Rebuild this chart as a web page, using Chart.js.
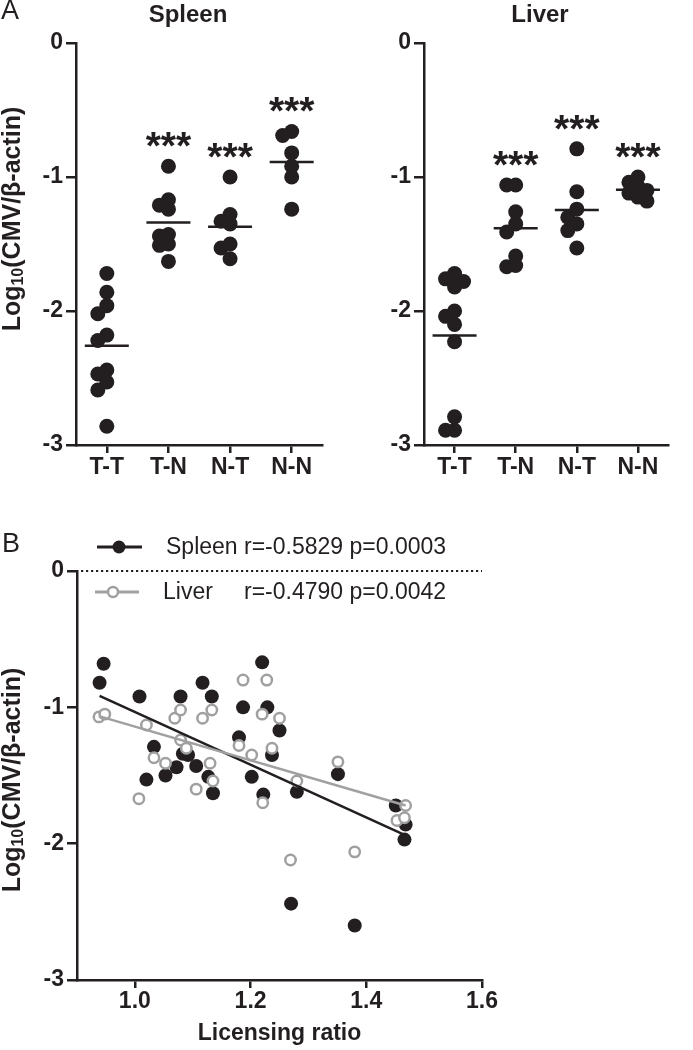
<!DOCTYPE html>
<html>
<head>
<meta charset="utf-8">
<script src="https://cdn.jsdelivr.net/npm/chart.js@4.4.1/dist/chart.umd.min.js"></script>
<style>
  body { margin: 0; background: #fff; width: 693px; height: 1050px; position: relative; overflow: hidden; }
  canvas { position: absolute; }
</style>
</head>
<body>
<canvas id="spleenChart" width="347" height="490" style="left:0;top:0"></canvas>
<canvas id="liverChart" width="346" height="490" style="left:347px;top:0"></canvas>
<canvas id="corrChart" width="693" height="560" style="left:0;top:490px"></canvas>
<script>
// panel A: log10(CMV/beta-actin) per donor/recipient group
const groups = ['T-T', 'T-N', 'N-T', 'N-N'];
const spleenTT = [-1.72, -1.86, -1.96, -2.02, -2.18, -2.22, -2.44, -2.47, -2.53, -2.59, -2.86];
const spleenTN = [-0.92, -1.17, -1.21, -1.24, -1.43, -1.44, -1.51, -1.50, -1.63];
const spleenNT = [-1.00, -1.28, -1.33, -1.35, -1.50, -1.53, -1.61];
const spleenNN = [-0.66, -0.69, -0.82, -0.92, -1.00, -1.24];
const liverTT = [-1.72, -1.76, -1.78, -1.82, -2.00, -2.04, -2.10, -2.23, -2.79, -2.89, -2.89];
const liverTN = [-1.06, -1.06, -1.26, -1.35, -1.41, -1.59, -1.67, -1.66];
const liverNT = [-0.79, -1.11, -1.24, -1.30, -1.35, -1.40, -1.53];
const liverNN = [-1.00, -1.04, -1.07, -1.10, -1.12, -1.15, -1.18];
const spleenSig = ['', '***', '***', '***'];
const liverSig = ['', '***', '***', '***'];
const logTicks = [-3, -2, -1, 0];

// panel B: licensing ratio vs log10(CMV/beta-actin)
const spleenRatio = [0.946, 0.939, 1.008, 1.079, 1.117, 1.133, 1.220, 1.187, 1.229, 1.250,
  1.180, 1.237, 1.033, 1.083, 1.092, 1.072, 1.053, 1.106, 1.020, 1.127,
  1.135, 1.202, 1.222, 1.280, 1.351, 1.451, 1.468, 1.466, 1.270, 1.380];
const spleenLog = [-0.68, -0.82, -0.92, -0.92, -0.82, -0.92, -0.67, -1.00, -1.00, -1.17,
  -1.22, -1.35, -1.29, -1.34, -1.35, -1.44, -1.50, -1.43, -1.53, -1.51,
  -1.63, -1.51, -1.64, -1.62, -1.49, -1.72, -1.86, -1.97, -2.44, -2.60];
const liverRatio = [0.938, 0.948, 1.020, 1.033, 1.053, 1.007, 1.069, 1.079, 1.079, 1.089,
  1.117, 1.133, 1.130, 1.135, 1.106, 1.187, 1.228, 1.220, 1.250, 1.180,
  1.202, 1.237, 1.221, 1.280, 1.351, 1.468, 1.453, 1.466, 1.269, 1.380];
const liverLog = [-1.07, -1.05, -1.13, -1.37, -1.41, -1.67, -1.08, -1.02, -1.24, -1.30,
  -1.08, -1.02, -1.41, -1.54, -1.60, -0.80, -0.80, -1.05, -1.08, -1.28,
  -1.35, -1.30, -1.70, -1.54, -1.40, -1.72, -1.83, -1.81, -2.12, -2.06];
const ratioTicks = [1.0, 1.2, 1.4, 1.6];
const legendNames = ['Spleen', 'Liver'];
const legendStats = ['r=-0.5829 p=0.0003', 'r=-0.4790 p=0.0042'];

const ink = '#231f20';
const grey = '#a0a0a0';
const fam = "'Liberation Sans', Arial, Helvetica, sans-serif";
Chart.defaults.font.family = fam;
Chart.defaults.color = ink;

function mean(a) { return a.reduce((s, v) => s + v, 0) / a.length; }

// rotated axis title with a real subscript
function yTitle(ctx, cx, cy) {
  const parts = [['Log', 'bold 25px'], ['10', 'bold 16px', 6], ['(CMV/\u03b2-actin)', 'bold 25px']];
  ctx.save();
  ctx.translate(cx, cy);
  ctx.rotate(-Math.PI / 2);
  ctx.fillStyle = ink;
  ctx.textBaseline = 'middle';
  let w = 0;
  parts.forEach(p => { ctx.font = p[1] + ' ' + fam; w += ctx.measureText(p[0]).width; });
  let x = -w / 2;
  parts.forEach(p => {
    ctx.font = p[1] + ' ' + fam;
    ctx.fillText(p[0], x, p[2] || 0);
    x += ctx.measureText(p[0]).width;
  });
  ctx.restore();
}

function axisStyle(len) {
  return {
    grid: { drawOnChartArea: false, drawTicks: true, tickLength: len, tickWidth: 2.5, tickColor: ink, color: ink, lineWidth: 2.5 },
    border: { display: true, color: ink, width: 2.5 }
  };
}

// spread points sideways like a scatter dot plot
function swarm(chart, sets) {
  const { x, y } = chart.scales;
  const unit = x.getPixelForValue(2) - x.getPixelForValue(1);
  const pts = chart.data.datasets[1].data;
  let k = 0;
  sets.forEach((vals, g) => {
    const idx = vals.map((v, i) => k + i).sort((a, b) => pts[b].y - pts[a].y);
    const placed = [];
    idx.forEach(i => {
      const py = y.getPixelForValue(pts[i].y);
      for (const s of [0, -1, 1, -2, 2, -3, 3]) {
        const px = s * 9;
        if (placed.every(p => Math.hypot(p[0] - px, p[1] - py) >= 9)) {
          placed.push([px, py]);
          pts[i].x = g + 1 + px / unit;
          break;
        }
      }
    });
    k += vals.length;
  });
  chart.update('none');
}

function dotChart(id, sets, sig, cfg) {
  const pts = [];
  sets.forEach((vals, g) => vals.forEach(v => pts.push({ x: g + 1, y: v })));
  const means = sets.map((vals, g) => ({ x: g + 1, y: mean(vals) }));
  const decor = {
    id: 'decor',
    afterDraw(chart) {
      const { ctx, scales: { x, y } } = chart;
      ctx.save();
      ctx.fillStyle = ink;
      ctx.textAlign = 'center';
      ctx.font = 'bold 39px ' + fam;
      sig.forEach((s, g) => {
        if (!s) return;
        ctx.fillText(s, x.getPixelForValue(g + 1), y.getPixelForValue(Math.max(...sets[g])) - 7);
      });
      ctx.textBaseline = 'middle';
      ctx.font = 'bold 24px ' + fam;
      ctx.fillText(cfg.title, cfg.titleX, 15);
      if (cfg.letter) {
        ctx.textAlign = 'left';
        ctx.font = '27px ' + fam;
        ctx.fillText(cfg.letter, 1, 12);
      }
      ctx.restore();
      if (cfg.yTitle) yTitle(ctx, 13, 219);
    }
  };
  const chart = new Chart(document.getElementById(id), {
    type: 'scatter',
    data: {
      datasets: [
        { data: means, pointStyle: 'line', pointRadius: 22, borderColor: ink, backgroundColor: ink, borderWidth: 2.5, order: 0, clip: false },
        { data: pts, pointStyle: 'circle', pointRadius: 7.5, backgroundColor: ink, borderWidth: 0, order: 1, clip: false }
      ]
    },
    options: {
      responsive: false,
      animation: false,
      events: [],
      layout: { padding: { top: 43, right: cfg.right, left: 0, bottom: 0 } },
      scales: {
        x: {
          type: 'linear', min: 0.5, max: 4.5,
          afterBuildTicks: s => { s.ticks = groups.map((_, i) => ({ value: i + 1 })); },
          afterFit: s => { s.height = 45; },
          ticks: { callback: v => groups[v - 1], font: { size: 23, weight: 'bold' }, color: ink, padding: 1, maxRotation: 0, autoSkip: false },
          ...axisStyle(8)
        },
        y: {
          min: -3, max: 0,
          afterBuildTicks: s => { s.ticks = logTicks.map(v => ({ value: v })); },
          afterFit: s => { s.width = cfg.axisX; },
          ticks: { callback: v => String(v), font: { size: 23, weight: 'bold' }, color: ink, padding: 3 },
          ...axisStyle(10)
        }
      },
      plugins: { legend: { display: false }, tooltip: { enabled: false } }
    },
    plugins: [decor]
  });
  swarm(chart, sets);
  return chart;
}

dotChart('spleenChart', [spleenTT, spleenTN, spleenNT, spleenNN], spleenSig,
  { title: 'Spleen', titleX: 188, right: 3, axisX: 76, yTitle: true, letter: 'A' });
dotChart('liverChart', [liverTT, liverTN, liverNT, liverNN], liverSig,
  { title: 'Liver', titleX: 193, right: 0, axisX: 77, yTitle: false });

// least squares fit drawn across the observed ratio range
function fitLine(xs, ys) {
  const mx = mean(xs), my = mean(ys);
  let sxy = 0, sxx = 0;
  xs.forEach((x, i) => { sxy += (x - mx) * (ys[i] - my); sxx += (x - mx) * (x - mx); });
  const b = sxy / sxx, a = my - b * mx;
  const x0 = Math.min(...xs), x1 = Math.max(...xs);
  return [{ x: x0, y: a + b * x0 }, { x: x1, y: a + b * x1 }];
}
const pairs = (xs, ys) => xs.map((x, i) => ({ x, y: ys[i] }));

const corrDecor = {
  id: 'corrDecor',
  beforeDatasetsDraw(chart) {
    const { ctx, chartArea, scales: { y } } = chart;
    const y0 = y.getPixelForValue(0);
    ctx.save();
    ctx.strokeStyle = ink;
    ctx.lineWidth = 2;
    ctx.setLineDash([2.2, 2.8]);
    ctx.beginPath();
    ctx.moveTo(chartArea.left + 4, y0);
    ctx.lineTo(chartArea.right, y0);
    ctx.stroke();
    ctx.restore();
  },
  afterDraw(chart) {
    const ctx = chart.ctx;
    ctx.save();
    ctx.fillStyle = ink;
    ctx.textBaseline = 'middle';
    ctx.font = '27px ' + fam;
    ctx.fillText('B', 2, 55);
    // legend rows
    const rows = [{ y: 57, c: ink, fill: ink, r: 6.5, x0: 97, x1: 142, m: 119 },
                  { y: 102, c: grey, fill: '#fff', r: 5, x0: 95, x1: 139, m: 113 }];
    ctx.font = '23px ' + fam;
    const statX = 166 + ctx.measureText(legendNames[0] + ' ').width;
    rows.forEach((r, i) => {
      ctx.strokeStyle = r.c;
      ctx.lineWidth = 3;
      ctx.beginPath(); ctx.moveTo(r.x0, r.y); ctx.lineTo(r.x1, r.y); ctx.stroke();
      ctx.beginPath(); ctx.arc(r.m, r.y, r.r, 0, Math.PI * 2);
      ctx.fillStyle = r.fill; ctx.fill();
      if (i === 1) { ctx.lineWidth = 2.5; ctx.stroke(); }
      ctx.fillStyle = ink;
      ctx.fillText(legendNames[i], i === 0 ? 166 : 163, r.y + 1);
      ctx.fillText(legendStats[i], statX, r.y + 1);
    });
    ctx.restore();
    yTitle(ctx, 13, 290);
  }
};

new Chart(document.getElementById('corrChart'), {
  type: 'scatter',
  data: {
    datasets: [
      { type: 'line', data: fitLine(liverRatio, liverLog), borderColor: grey, borderWidth: 2.5, pointRadius: 0, order: 0 },
      { type: 'line', data: fitLine(spleenRatio, spleenLog), borderColor: ink, borderWidth: 2.5, pointRadius: 0, order: 1 },
      { data: pairs(liverRatio, liverLog), pointRadius: 5.2, borderWidth: 2.5, borderColor: grey, backgroundColor: '#fff', order: 2, clip: false },
      { data: pairs(spleenRatio, spleenLog), pointRadius: 7, borderWidth: 0, backgroundColor: ink, order: 3, clip: false }
    ]
  },
  options: {
    responsive: false,
    animation: false,
    events: [],
    layout: { padding: { top: 81, right: 211, left: 0, bottom: 0 } },
    scales: {
      x: {
        type: 'linear', min: 0.9, max: 1.6,
        afterBuildTicks: s => { s.ticks = ratioTicks.map(v => ({ value: v })); },
        afterFit: s => { s.height = 70; },
        ticks: { callback: v => v.toFixed(1), font: { size: 23, weight: 'bold' }, color: ink, padding: 0, maxRotation: 0, autoSkip: false },
        title: { display: true, text: 'Licensing ratio', font: { size: 23, weight: 'bold' }, color: ink, padding: { top: 0, bottom: 3 } },
        ...axisStyle(8)
      },
      y: {
        min: -3, max: 0,
        afterBuildTicks: s => { s.ticks = logTicks.map(v => ({ value: v })); },
        afterFit: s => { s.width = 77; },
        ticks: { callback: v => String(v), font: { size: 23, weight: 'bold' }, color: ink, padding: 3 },
        ...axisStyle(10)
      }
    },
    plugins: { legend: { display: false }, tooltip: { enabled: false } }
  },
  plugins: [corrDecor]
});
</script>
</body>
</html>
